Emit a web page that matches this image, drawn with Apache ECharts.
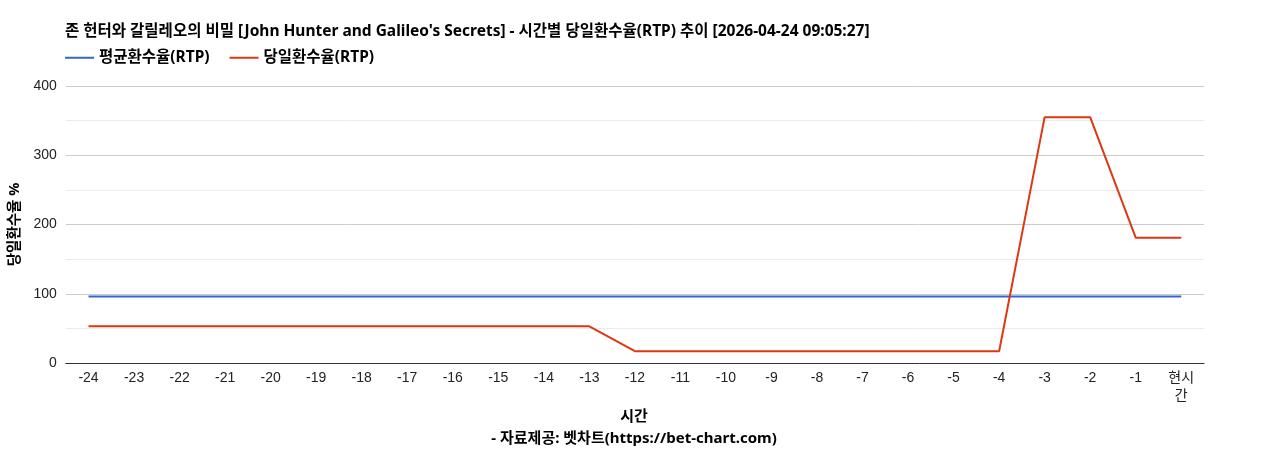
<!DOCTYPE html>
<html><head><meta charset="utf-8">
<script src="https://cdn.jsdelivr.net/npm/echarts@6/dist/echarts.min.js"></script>
<style>html,body{margin:0;padding:0;background:#fff}#c{width:1268px;height:450px}</style>
</head><body><div id="c"></div>
<script>
const titleText = "존 헌터와 갈릴레오의 비밀 [John Hunter and Galileo's Secrets] - 시간별 당일환수율(RTP) 추이 [2026-04-24 09:05:27]";
const categories = ['-24','-23','-22','-21','-20','-19','-18','-17','-16','-15','-14','-13','-12','-11','-10','-9','-8','-7','-6','-5','-4','-3','-2','-1','현시간'];
const avgName = '평균환수율(RTP)';
const dayName = '당일환수율(RTP)';
const avgRTP = [96,96,96,96,96,96,96,96,96,96,96,96,96,96,96,96,96,96,96,96,96,96,96,96,96];
const dayRTP = [53,53,53,53,53,53,53,53,53,53,53,53,17,17,17,17,17,17,17,17,17,355,355,181,181];
const yTicks = {min:0, max:400, interval:100};
const FONT = "'Liberation Sans', 'Noto Sans CJK KR', sans-serif";
const BFONT = "'Noto Sans', 'Noto Sans CJK KR', sans-serif";
const chart = echarts.init(document.getElementById('c'));
chart.setOption({
  animation:false,
  textStyle:{fontFamily:FONT},
  title:[{
    text:titleText, left:60, top:19,
    textStyle:{fontSize:15.5, fontWeight:'bold', color:'#000', fontFamily:BFONT}
  },{
    text:'시간', left:'center', top:404,
    textStyle:{fontSize:15, fontWeight:'bold', color:'#000', fontFamily:BFONT}
  },{
    text:'- 자료제공: 벳차트(https://bet-chart.com)', left:'center', top:426,
    textStyle:{fontSize:15, fontWeight:'bold', color:'#000', fontFamily:BFONT}
  }],
  legend:{
    left:60, top:45, itemWidth:29, itemHeight:2, itemGap:20,
    icon:'rect',
    textStyle:{fontSize:15.5, fontWeight:'bold', color:'#000', fontFamily:BFONT},
    data:[avgName, dayName]
  },
  grid:{left:62, right:64, top:86, bottom:87},
  xAxis:{
    type:'category', data:categories, boundaryGap:true,
    axisLine:{lineStyle:{color:'#333'}},
    axisTick:{show:false},
    axisLabel:{fontSize:14, color:'#222', margin:6, interval:0,
      formatter:v => v === '현시간' ? '현시\n간' : v, lineHeight:18}
  },
  yAxis:{
    type:'value', min:yTicks.min, max:yTicks.max, interval:yTicks.interval,
    name:'당일환수율 %', nameLocation:'middle', nameGap:37, nameRotate:90,
    nameTextStyle:{fontSize:14.5, fontWeight:'bold', color:'#000', fontFamily:BFONT},
    axisLine:{show:false}, axisTick:{show:false},
    axisLabel:{fontSize:14, color:'#222', margin:9},
    splitLine:{lineStyle:{color:'#ccc'}},
    minorTick:{show:false, splitNumber:2},
    minorSplitLine:{show:true, lineStyle:{color:'#ebebeb'}}
  },
  series:[{
    name:avgName, type:'line', data:avgRTP, symbol:'none',
    lineStyle:{color:'#3366cc', width:2}, itemStyle:{color:'#3366cc'}
  },{
    name:dayName, type:'line', data:dayRTP, symbol:'none',
    lineStyle:{color:'#dc3912', width:2}, itemStyle:{color:'#dc3912'}
  }]
});
</script></body></html>
